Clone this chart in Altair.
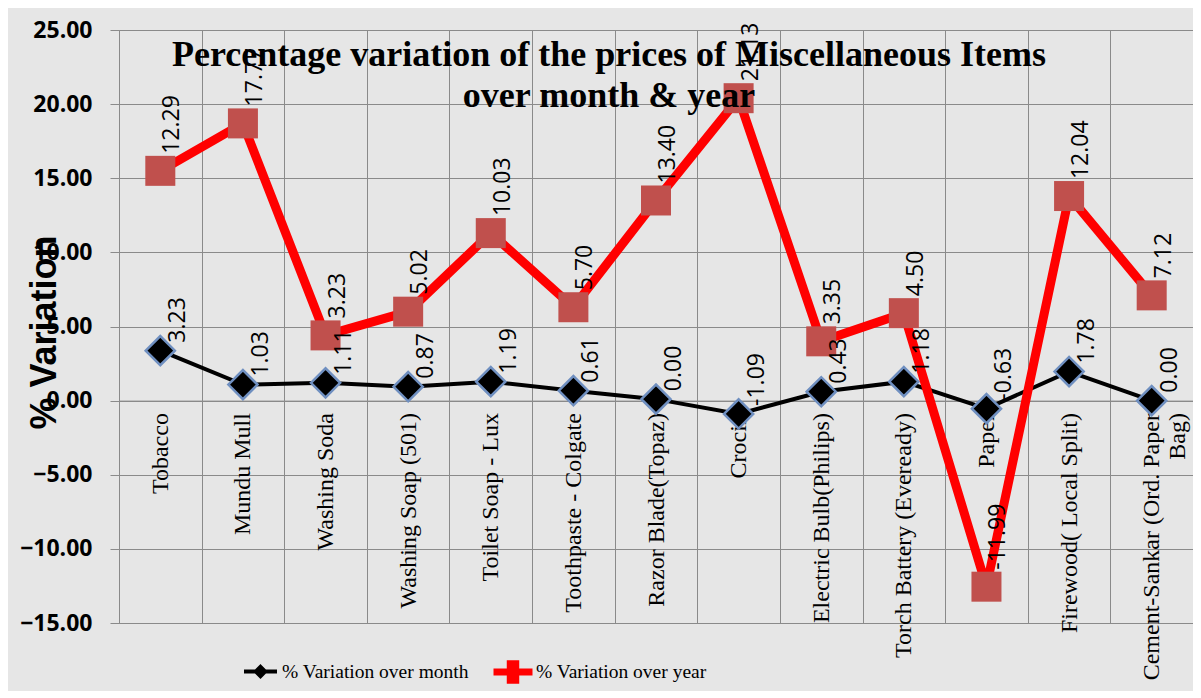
import altair as alt
import pandas as pd

categories = ["Tobacco", "Mundu Mull", "Washing Soda", "Washing Soap (501)",
              "Toilet Soap - Lux", "Toothpaste - Colgate", "Razor Blade(Topaz)",
              "Crocin", "Electric Bulb(Philips)", "Torch Battery (Eveready)",
              "Paper", "Firewood( Local Split)", "Cement-Sankar (Ord. Paper Bag)"]

month_values = [3.37, 1.08, 1.2, 0.94, 1.28, 0.67, 0.1, -0.9, 0.6, 1.28, -0.54, 1.96, 0.0]
month_labels = ["3.23", "1.03", "1.11", "0.87", "1.19", "0.61", "0.00", "-1.09",
                "0.43", "1.18", "-0.63", "1.78", "0.00"]

year_values = [15.5, 18.7, 4.4, 6.0, 11.3, 6.3, 13.5, 20.4, 4.0, 5.9, -12.55, 13.8, 7.1]
year_labels = ["12.29", "17.77", "3.23", "5.02", "10.03", "5.70", "13.40", "21.13",
               "3.35", "4.50", "-11.99", "12.04", "7.12"]

M = "% Variation over month"
Y = "% Variation over year"

rows = []
for i, c in enumerate(categories):
    rows.append({"item": c, "idx": i, "series": M, "value": month_values[i], "label": month_labels[i]})
for i, c in enumerate(categories):
    rows.append({"item": c, "idx": i, "series": Y, "value": year_values[i], "label": year_labels[i]})
df = pd.DataFrame(rows)

GRID = "#8a8a8a"

x_axis = alt.Axis(
    title=None, orient="bottom", offset=-222.4,
    labelAngle=270, labelAlign="right", labelBaseline="middle",
    labelFont="Liberation Serif", labelFontSize=24, labelColor="black",
    labelPadding=12, labelLimit=600, labelOverlap=False, labelBound=False,
    ticks=False, domain=True, domainColor=GRID,
    grid=True, gridColor=GRID, gridWidth=1, tickBand="extent",
    labelExpr="datum.label == 'Cement-Sankar (Ord. Paper Bag)' ? ['Cement-Sankar (Ord. Paper', 'Bag)'] : datum.label",
)
y_axis = alt.Axis(
    values=[-15, -10, -5, 0, 5, 10, 15, 20, 25], format=".2f",
    labelFont="Open Sans", labelFontSize=23, labelFontWeight="bold", labelColor="black",
    labelPadding=18, tickSize=9, tickColor=GRID, domainColor=GRID,
    grid=True, gridColor=GRID, gridWidth=1,
    title="% Variation", titleFont="Liberation Sans", titleFontSize=36,
    titleFontWeight="bold", titleColor="black", titleAngle=270,
    titleX=-75, titleY=302, titleAlign="center", titleBaseline="middle",
)

x_enc = alt.X("item:N", sort=categories,
              scale=alt.Scale(type="band", paddingInner=0, paddingOuter=0), axis=x_axis)
y_enc = alt.Y("value:Q", scale=alt.Scale(domain=[-15, 25], nice=False, zero=False), axis=y_axis)

base = alt.Chart(df)
month = base.transform_filter(alt.datum.series == M)
year = base.transform_filter(alt.datum.series == Y)

path_m = "M-1,0L1,0M0,-0.28L0.28,0L0,0.28L-0.28,0Z"
path_y = "M-1,0L1,0M-0.14,-0.42L0.14,-0.42L0.14,0.42L-0.14,0.42Z"

legend_m = alt.Legend(title=None, orient="none", legendX=123, legendY=623, padding=0,
                      symbolType=path_m, symbolSize=1089, symbolStrokeWidth=4,
                      symbolFillColor="black", labelFont="Liberation Serif",
                      labelFontSize=19.5, labelColor="black", labelOffset=3, labelLimit=400)
legend_y = alt.Legend(title=None, orient="none", legendX=371, legendY=619, padding=0,
                      symbolType=path_y, symbolSize=1521, symbolStrokeWidth=7,
                      symbolFillColor="#c0504d", labelFont="Liberation Serif",
                      labelFontSize=19.5, labelColor="black", labelOffset=0, labelLimit=400)

month_line = month.mark_line(strokeWidth=4).encode(
    x=x_enc, y=y_enc, order="idx:Q",
    stroke=alt.Stroke("series:N", scale=alt.Scale(domain=[M], range=["#000000"]), legend=legend_m))
year_line = year.mark_line(strokeWidth=9).encode(
    x=x_enc, y=y_enc, order="idx:Q",
    stroke=alt.Stroke("series:N", scale=alt.Scale(domain=[Y], range=["#ff0000"]), legend=legend_y))

month_pts = month.mark_point(shape="diamond", filled=True, fill="#000000", stroke="#6f8fc0",
                             strokeWidth=2.5, size=850, opacity=1).encode(x=x_enc, y=y_enc)
year_pts = year.mark_point(shape="square", filled=True, fill="#c0504d", strokeWidth=0,
                           size=900, opacity=1).encode(x=x_enc, y=y_enc)

month_txt = month.mark_text(angle=270, align="left", baseline="middle", dx=8, dy=18,
                            font="Open Sans", fontSize=23, color="black").encode(
    x=x_enc, y=y_enc, text="label:N")
year_txt = year.mark_text(angle=270, align="left", baseline="middle", dx=17, dy=12,
                          font="Open Sans", fontSize=23, color="black").encode(
    x=x_enc, y=y_enc, text="label:N")

chart = alt.layer(month_line, month_pts, year_line, year_pts, month_txt, year_txt).resolve_scale(
    stroke="independent").resolve_legend(stroke="independent").properties(
    width=1074, height=593,
    title=alt.TitleParams(
        text=["Percentage variation of the prices of Miscellaneous Items", "over month & year"],
        font="Liberation Serif", fontSize=36, fontWeight="bold", color="black",
        anchor="middle", dx=-47, dy=100, lineHeight=41),
    autosize=alt.AutoSizeParams(type="none"),
    padding={"left": 111, "top": 22, "right": 0, "bottom": 68},
).configure(background="#e6e6e6").configure_view(stroke=GRID, strokeWidth=1)

chart.save("out.html", embed_options={"renderer": "svg", "actions": False})
